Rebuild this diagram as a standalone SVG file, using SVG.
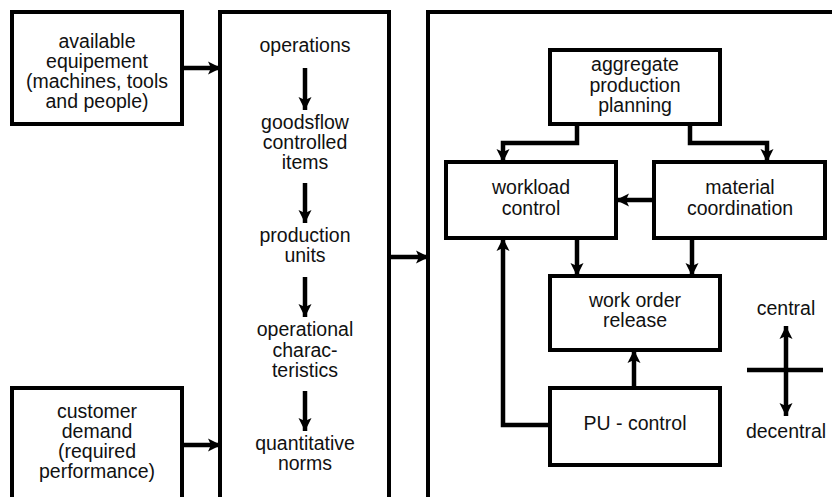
<svg xmlns="http://www.w3.org/2000/svg" width="832" height="497" viewBox="0 0 832 497">
<style>
.box{fill:#fff;stroke:#000;stroke-width:4}
.t{font-family:"Liberation Sans",Arial,sans-serif;font-size:19.5px;fill:#111;text-anchor:middle}
.c{fill:none;stroke:#000;stroke-width:4.5;marker-end:url(#ah)}
</style>
<defs>
<marker id="ah" markerUnits="userSpaceOnUse" viewBox="0 -7 14 14" refX="13" refY="0" markerWidth="14" markerHeight="14" orient="auto">
<path d="M0,-6.5 L13,0 L0,6.5 L3,0 Z" fill="#000"/>
</marker>
<marker id="ahs" markerUnits="userSpaceOnUse" viewBox="0 -7 14 14" refX="13" refY="0" markerWidth="14" markerHeight="14" orient="auto-start-reverse">
<path d="M0,-6.5 L13,0 L0,6.5 L3,0 Z" fill="#000"/>
</marker>
</defs>
<rect width="832" height="497" fill="#fff"/>
<g id="available-equipment">
<rect class="box" x="12" y="12" width="170" height="112"/>
<text class="t" x="97" y="48">available</text>
<text class="t" x="97" y="68">equipement</text>
<text class="t" x="97" y="88">(machines, tools</text>
<text class="t" x="97" y="108">and people)</text>
</g>
<g id="customer-demand">
<rect class="box" x="12" y="388" width="170" height="120"/>
<text class="t" x="97" y="418">customer</text>
<text class="t" x="97" y="438">demand</text>
<text class="t" x="97" y="458">(required</text>
<text class="t" x="97" y="478">performance)</text>
</g>
<g id="structure-column">
<rect class="box" x="220" y="12" width="169" height="500"/>
<text class="t" x="305" y="52">operations</text>
<text class="t" x="305" y="129">goodsflow</text>
<text class="t" x="305" y="149">controlled</text>
<text class="t" x="305" y="169">items</text>
<text class="t" x="305" y="242">production</text>
<text class="t" x="305" y="262">units</text>
<text class="t" x="305" y="336">operational</text>
<text class="t" x="305" y="357">charac-</text>
<text class="t" x="305" y="377">teristics</text>
<text class="t" x="305" y="450">quantitative</text>
<text class="t" x="305" y="470">norms</text>
</g>
<g id="control-frame">
<rect class="box" x="428" y="12" width="420" height="500"/>
</g>
<g id="aggregate-production-planning">
<rect class="box" x="550" y="50" width="170" height="74"/>
<text class="t" x="635" y="71">aggregate</text>
<text class="t" x="635" y="92">production</text>
<text class="t" x="635" y="112">planning</text>
</g>
<g id="workload-control">
<rect class="box" x="446" y="162" width="170" height="76"/>
<text class="t" x="531" y="194">workload</text>
<text class="t" x="531" y="215">control</text>
</g>
<g id="material-coordination">
<rect class="box" x="654" y="162" width="171" height="76"/>
<text class="t" x="740" y="194">material</text>
<text class="t" x="740" y="215">coordination</text>
</g>
<g id="work-order-release">
<rect class="box" x="550" y="276" width="170" height="74"/>
<text class="t" x="635" y="307">work order</text>
<text class="t" x="635" y="327">release</text>
</g>
<g id="pu-control">
<rect class="box" x="550" y="388" width="170" height="77"/>
<text class="t" x="635" y="430">PU - control</text>
</g>
<g id="legend">
<text class="t" x="786" y="315">central</text>
<text class="t" x="786" y="438">decentral</text>
<line x1="747" y1="370" x2="823" y2="370" stroke="#000" stroke-width="4.5"/>
<line x1="786" y1="326" x2="786" y2="416" stroke="#000" stroke-width="4.5" marker-start="url(#ahs)" marker-end="url(#ahs)"/>
</g>
<g id="connectors">
<path class="c" d="M184,68 H221"/>
<path class="c" d="M184,445 H221"/>
<path class="c" d="M391,257 H429"/>
<path class="c" d="M305,68 V110"/>
<path class="c" d="M305,183 V223"/>
<path class="c" d="M305,277 V317"/>
<path class="c" d="M305,391 V431"/>
<path class="c" d="M577,124 V143 H503 V162"/>
<path class="c" d="M690,124 V143 H767 V162"/>
<path class="c" d="M654,200 H616"/>
<path class="c" d="M577,238 V276"/>
<path class="c" d="M692,238 V276"/>
<path class="c" d="M634,388 V350"/>
<path class="c" d="M550,425 H503 V238"/>
</g>
</svg>
